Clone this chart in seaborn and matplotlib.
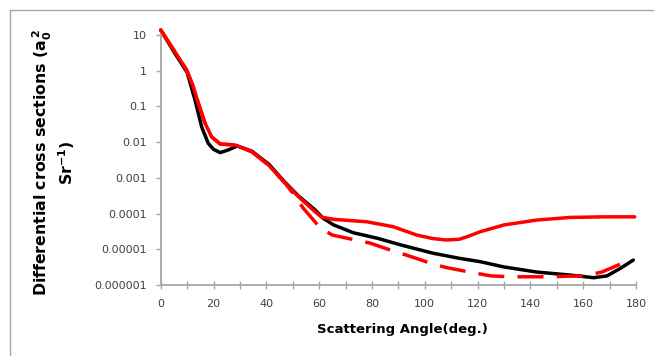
import matplotlib
matplotlib.use("Agg")
import matplotlib.pyplot as plt
import seaborn as sns
import numpy as np
from matplotlib.lines import Line2D
from matplotlib.ticker import FixedLocator, FixedFormatter, NullLocator, MultipleLocator

# ---- data ----
black_x = [0, 5, 10, 13, 15.5, 18, 20, 22.5, 25.5, 29, 34.5, 41, 47, 52, 58.5, 61.5,
           65.5, 73, 82, 91, 103, 113, 121, 130, 142.5, 155, 164, 169, 174, 179]
black_y = [13.8, 3.4, 0.9, 0.15, 0.027, 0.0093, 0.0063, 0.0051, 0.006, 0.0078, 0.0056,
           0.0024, 0.00076, 0.00032, 0.000126, 0.000074, 0.000048, 0.000029, 0.0000204,
           0.0000132, 0.0000078, 0.0000056, 0.0000045, 0.0000032, 0.0000023, 0.0000019,
           0.0000016, 0.0000018, 0.0000029, 0.000005]

red_x = [0, 5.4, 9.8, 12.4, 14.3, 16.8, 19.3, 22.5, 28.2, 34.5, 40.8, 47.1, 52.1, 58.5,
         61, 65.5, 78, 88, 97, 103, 108, 113, 116, 121, 130, 142.5, 155, 168, 179.5]
red_y = [13.8, 3.4, 1.05, 0.35, 0.12, 0.034, 0.014, 0.0089, 0.0083, 0.0054, 0.0023,
         0.00071, 0.0003, 0.000112, 0.000079, 0.000069, 0.000059, 0.000043, 0.000025,
         0.000020, 0.0000182, 0.000019, 0.0000224, 0.000031, 0.000048, 0.000066,
         0.000078, 0.000081, 0.000081]

dash_x = [0, 5.4, 9.8, 12.4, 14.3, 16.8, 19.3, 22.5, 28.2, 34.5, 40.8, 47.1, 50, 54,
          60.5, 65, 75, 79, 89, 93, 103, 108, 117, 125, 132, 146, 160, 167, 172, 177]
dash_y = [13.8, 3.4, 1.05, 0.35, 0.12, 0.034, 0.014, 0.0089, 0.0083, 0.0054, 0.0023,
          0.00071, 0.00038, 0.000141, 0.000039, 0.000025, 0.0000174, 0.0000151,
          0.0000085, 0.0000069, 0.0000039, 0.0000031, 0.0000023, 0.0000018, 0.0000017,
          0.0000017, 0.0000018, 0.0000023, 0.0000033, 0.0000048]

x_ticks = [0, 20, 40, 60, 80, 100, 120, 140, 160, 180]
y_ticks = [1e-6, 1e-5, 1e-4, 1e-3, 1e-2, 1e-1, 1, 10]
y_tick_labels = ['0.000001', '0.00001', '0.0001', '0.001', '0.01', '0.1', '1', '10']

# ---- style ----
sns.set_style("white")
plt.rcParams['font.family'] = ['DejaVu Sans']
plt.rcParams['mathtext.fontset'] = 'dejavusans'
plt.rcParams['mathtext.default'] = 'bf'

fig = plt.figure(figsize=(6.54, 3.56), dpi=100)
ax = fig.add_axes([160.7 / 654, 71 / 356, (636 - 160.7) / 654, (285 - 35) / 356])

lw = 2.5
sns.lineplot(x=black_x, y=black_y, ax=ax, color='black', lw=lw, clip_on=False,
             solid_capstyle='round', sort=False)
sns.lineplot(x=red_x, y=red_y, ax=ax, color='#ff0000', lw=lw, clip_on=False,
             solid_capstyle='round', sort=False)
sns.lineplot(x=dash_x, y=dash_y, ax=ax, color='#ff0000', lw=lw, clip_on=False,
             linestyle=(0, (7.5, 3.8)), sort=False)

ax.set_yscale('log')
ax.set_ylim(1e-6, 10)
ax.set_xlim(0, 180)

ax.yaxis.set_major_locator(FixedLocator(y_ticks))
ax.yaxis.set_major_formatter(FixedFormatter(y_tick_labels))
ax.yaxis.set_minor_locator(NullLocator())
ax.xaxis.set_major_locator(FixedLocator(x_ticks))
ax.xaxis.set_minor_locator(MultipleLocator(10))

gray = '#a6a6a6'
for s in ['top', 'right']:
    ax.spines[s].set_visible(False)
for s in ['left', 'bottom']:
    ax.spines[s].set_color(gray)
    ax.spines[s].set_linewidth(1.3)

ax.tick_params(axis='y', which='major', direction='out', length=3.6, width=1.0,
               color=gray, pad=6.5, labelsize=8, labelcolor='#404040', left=True)
ax.tick_params(axis='x', which='both', direction='inout', length=5.5, width=1.0,
               color=gray, pad=7, labelsize=8, labelcolor='#404040', bottom=True)

ax.set_xlabel('Scattering Angle(deg.)', fontsize=9.5, fontweight='bold', color='black')
ax.xaxis.set_label_coords(0.508, -0.15)
ax.xaxis.label.set_va('top')

ax.set_ylabel('Differential cross sections (a$_0^{\\,2}$\nSr$^{-1}$)', fontsize=11.3,
              fontweight='bold', color='black', linespacing=1.15)
ax.yaxis.set_label_coords(-0.176, 0.49)

# chart-area border (top and left visible)
fig.add_artist(Line2D([10 / 654, 10 / 654, 1.0], [0.0, 1 - 10 / 356, 1 - 10 / 356],
                      transform=fig.transFigure, color=gray, lw=1.0))

fig.savefig('out.png', dpi=100)
